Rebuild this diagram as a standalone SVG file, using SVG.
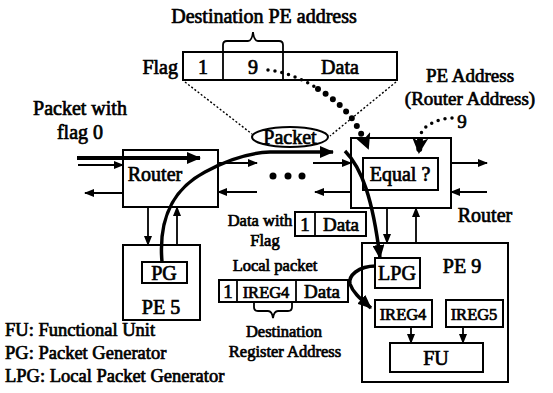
<svg xmlns="http://www.w3.org/2000/svg" width="553" height="393" viewBox="0 0 553 393">
<defs>
<marker id="ah" markerUnits="userSpaceOnUse" markerWidth="10" markerHeight="8" refX="9" refY="4" orient="auto"><path d="M0,0 L10,4 L0,8 z" fill="#000"/></marker>
<marker id="ahb" markerUnits="userSpaceOnUse" markerWidth="14" markerHeight="12" refX="13" refY="6" orient="auto"><path d="M0,0 L14,6 L0,12 z" fill="#000"/></marker>
<marker id="ahd" markerUnits="userSpaceOnUse" markerWidth="16" markerHeight="16" refX="14" refY="8" orient="auto"><path d="M0,0 L16,8 L0,16 L4,8 z" fill="#000"/></marker>
</defs>
<style>
text{font-family:"Liberation Serif","Times New Roman",serif;fill:#000;stroke:#000;stroke-width:0.7;text-anchor:middle}
.l{text-anchor:start}
.e{text-anchor:end}
.s{font-size:16.5px}
.m{font-size:19px}
.g{font-size:20px}
.lg{font-size:18.5px}
.box{fill:#fff;stroke:#000;stroke-width:2}
.ln{fill:none;stroke:#000;stroke-width:1.8}
.thk{fill:none;stroke:#000;stroke-width:3.5}
.prj{fill:none;stroke:#000;stroke-width:1.4;stroke-dasharray:2 2}
.dot1{fill:none;stroke:#000;stroke-width:3.5;stroke-linecap:round;stroke-dasharray:0 7}
.dot2{fill:none;stroke:#000;stroke-width:6;stroke-linecap:round;stroke-dasharray:0 9}
</style>
<rect width="553" height="393" fill="#fff"/>

<g id="packet-format">
<text class="g" x="264" y="23">Destination PE address</text>
<text class="g e" x="178" y="74">Flag</text>
<rect class="box" x="183" y="52" width="214" height="28"/>
<path class="ln" d="M223,80 L223,45 Q223,41 227,41 L248,41 Q252,41 253,32 Q254,41 258,41 L279,41 Q283,41 283,45 L283,80"/>
<text class="g" x="203" y="74">1</text>
<text class="g" x="253" y="74">9</text>
<text class="g" x="340" y="74">Data</text>
</g>

<g id="pe-address-label">
<text class="m" x="470" y="82">PE Address</text>
<text class="m" x="470" y="105">(Router Address)</text>
<text class="m" x="462" y="128">9</text>
</g>

<g id="packet-with-flag0">
<text class="g" x="80" y="115">Packet with</text>
<text class="g" x="80" y="139">flag 0</text>
</g>

<g id="router-5">
<rect class="box" x="123" y="150" width="95" height="57"/>
<text class="g" x="155" y="181">Router</text>
</g>

<g id="router-9">
<rect class="box" x="351" y="138" width="100" height="70"/>
<rect class="box" x="363" y="158" width="75" height="32"/>
<text class="g" x="400" y="181">Equal ?</text>
<text class="g" x="485" y="222">Router</text>
</g>

<g id="pe5">
<rect class="box" x="123" y="245" width="77" height="75"/>
<rect class="box" x="142" y="262" width="45" height="21"/>
<text class="g" x="164" y="280">PG</text>
<text class="g" x="161" y="314">PE 5</text>
</g>

<g id="pe9">
<rect class="box" x="362" y="243" width="146" height="139"/>
<rect class="box" x="375" y="258" width="45" height="30"/>
<text class="g" x="397" y="280">LPG</text>
<text class="g" x="462" y="273">PE 9</text>
<rect class="box" x="375" y="300" width="57" height="27"/>
<text class="s" x="403" y="320">IREG4</text>
<rect class="box" x="446" y="300" width="57" height="27"/>
<text class="s" x="474" y="320">IREG5</text>
<rect class="box" x="390" y="343" width="93" height="29"/>
<text class="g" x="436" y="365">FU</text>
</g>

<g id="data-with-flag">
<text class="s" x="260" y="226">Data with</text>
<text class="s" x="265" y="246">Flag</text>
<rect class="box" x="295" y="212" width="71" height="24"/>
<line class="ln" x1="315" y1="212" x2="315" y2="236"/>
<text class="m" x="305" y="231">1</text>
<text class="m" x="341" y="231">Data</text>
</g>

<g id="local-packet">
<text class="s" x="275" y="271">Local packet</text>
<rect class="box" x="219" y="280" width="129" height="22"/>
<line class="ln" x1="237" y1="280" x2="237" y2="302"/>
<line class="ln" x1="296" y1="280" x2="296" y2="302"/>
<text class="m" x="228" y="298">1</text>
<text class="s" x="266" y="298">IREG4</text>
<text class="m" x="322" y="298">Data</text>
<path class="ln" d="M254,302 L254,307 Q254,311 258,311 L268,311 Q272,311 273,318 Q274,311 278,311 L288,311 Q292,311 292,307 L292,302"/>
<text class="s" x="284" y="337">Destination</text>
<text class="s" x="285" y="357">Register Address</text>
</g>

<g id="packet-bubble">
<ellipse cx="290" cy="137" rx="38" ry="10" fill="#fff" stroke="#000" stroke-width="2"/>
<text class="g" x="290" y="144">Packet</text>
</g>

<g id="ellipsis">
<circle cx="273" cy="176" r="3.5"/>
<circle cx="288" cy="176" r="3.5"/>
<circle cx="302" cy="176" r="3.5"/>
</g>

<g id="legend">
<text class="lg l" x="5" y="336">FU: Functional Unit</text>
<text class="lg l" x="5" y="359">PG: Packet Generator</text>
<text class="lg l" x="5" y="382">LPG: Local Packet Generator</text>
</g>

<g id="connectors">
<path class="prj" d="M185,82 L252,134"/>
<path class="prj" d="M396,82 L330,136"/>
<path class="dot1" d="M268,70 C285,72 300,78 315,87"/>
<path class="dot2" d="M318,89 C335,99 350,113 358,128 C363,137 366,143 368,148" marker-end="url(#ahd)"/>
<path class="dot1" d="M452,118 C437,119 423,125 420,136"/>
<path class="dot2" d="M420,140 L419,152" marker-end="url(#ahd)"/>
<path d="M77,158 L200,158" fill="none" stroke="#000" stroke-width="4" marker-end="url(#ahb)"/>
<path class="ln" d="M78,165 L123,165" marker-end="url(#ah)"/>
<path class="ln" d="M123,193 L85,193" marker-end="url(#ah)"/>
<path class="ln" d="M218,163 L257,163" marker-end="url(#ah)"/>
<path class="ln" d="M257,192 L218,192" marker-end="url(#ah)"/>
<path class="ln" d="M148,207 L148,245" marker-end="url(#ah)"/>
<path class="ln" d="M177,245 L177,207" marker-end="url(#ah)"/>
<path class="ln" d="M313,163 L351,163" marker-end="url(#ah)"/>
<path class="ln" d="M351,192 L315,192" marker-end="url(#ah)"/>
<path class="ln" d="M451,163 L487,163" marker-end="url(#ah)"/>
<path class="ln" d="M487,192 L451,192" marker-end="url(#ah)"/>
<path class="ln" d="M387,208 L387,243" marker-end="url(#ah)"/>
<path class="ln" d="M416,243 L416,208" marker-end="url(#ah)"/>
<path class="ln" d="M411,327 L411,343" marker-end="url(#ah)"/>
<path class="ln" d="M463,327 L463,343" marker-end="url(#ah)"/>
<path class="thk" d="M162,262 C158,215 175,188 205,172 C225,161 245,153 270,152 L333,152" marker-end="url(#ahb)"/>
<path class="thk" d="M345,151 C362,168 373,200 380,258" marker-end="url(#ahb)"/>
<path class="thk" d="M376,266 C358,266 348,276 350,284 C353,293 362,300 371,308" marker-end="url(#ahb)"/>
</g>
</svg>
